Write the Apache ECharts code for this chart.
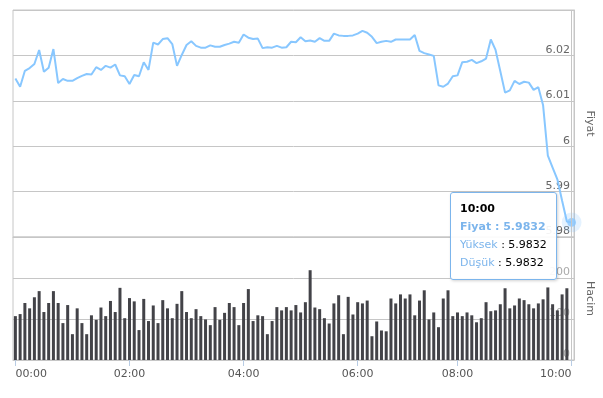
<!DOCTYPE html>
<html>
<head>
<meta charset="utf-8">
<script src="https://cdn.jsdelivr.net/npm/echarts@6/dist/echarts.min.js"></script>
<style>
    html, body { margin: 0; padding: 0; background: #fff; }
    #chart { width: 603px; height: 398px; }
</style>
</head>
<body>
<div id="chart"></div>
<script>
// ──── data ────
const times = [
    '00:00','00:05','00:10','00:15','00:20','00:25','00:30','00:35','00:40','00:45','00:50','00:55',
    '01:00','01:05','01:10','01:15','01:20','01:25','01:30','01:35','01:40','01:45','01:50','01:55',
    '02:00','02:05','02:10','02:15','02:20','02:25','02:30','02:35','02:40','02:45','02:50','02:55',
    '03:00','03:05','03:10','03:15','03:20','03:25','03:30','03:35','03:40','03:45','03:50','03:55',
    '04:00','04:05','04:10','04:15','04:20','04:25','04:30','04:35','04:40','04:45','04:50','04:55',
    '05:00','05:05','05:10','05:15','05:20','05:25','05:30','05:35','05:40','05:45','05:50','05:55',
    '06:00','06:05','06:10','06:15','06:20','06:25','06:30','06:35','06:40','06:45','06:50','06:55',
    '07:00','07:05','07:25','07:30','07:35','07:40','07:45','07:50','07:55',
    '08:00','08:05','08:10','08:15','08:20','08:25','08:30','08:35','08:40','08:45','08:50','08:55',
    '09:00','09:05','09:10','09:15','09:20','09:25','09:30','09:35','09:40','09:45','09:50','09:55',
    '10:00'
];

const price = [
    6.0149, 6.0131, 6.0166, 6.0172, 6.0181, 6.0212, 6.0164, 6.0173, 6.0214, 6.0139,
    6.0148, 6.0144, 6.0144, 6.0150, 6.0155, 6.0159, 6.0158, 6.0174, 6.0168, 6.0177,
    6.0173, 6.0180, 6.0156, 6.0154, 6.0137, 6.0157, 6.0154, 6.0185, 6.0168, 6.0228,
    6.0224, 6.0236, 6.0238, 6.0225, 6.0177, 6.0201, 6.0223, 6.0231, 6.0221, 6.0217,
    6.0217, 6.0222, 6.0219, 6.0219, 6.0223, 6.0226, 6.0230, 6.0228, 6.0246, 6.0239,
    6.0236, 6.0237, 6.0216, 6.0218, 6.0217, 6.0221, 6.0217, 6.0218, 6.0230, 6.0229,
    6.0240, 6.0231, 6.0233, 6.0230, 6.0238, 6.0232, 6.0232, 6.0248, 6.0244, 6.0243,
    6.0243, 6.0244, 6.0248, 6.0254, 6.0250, 6.0241, 6.0227, 6.0230, 6.0232, 6.0230,
    6.0235, 6.0235, 6.0235, 6.0235, 6.0245, 6.0210, 6.0205, 6.0202, 6.0199, 6.0134,
    6.0131, 6.0138, 6.0154, 6.0156, 6.0185, 6.0186, 6.0190, 6.0183, 6.0187, 6.0193,
    6.0235, 6.0212, 6.0165, 6.0118, 6.0123, 6.0144, 6.0137, 6.0142, 6.0140, 6.0124,
    6.0130, 6.0090, 5.9979, 5.9953, 5.9927, 5.9880, 5.9834, 5.9832
];

const volume = [
    107, 112, 139, 126, 153, 168, 117, 139, 168, 139,
    90, 134, 63, 126, 90, 63, 109, 98, 128, 107,
    144, 117, 176, 102, 151, 143, 73, 149, 95, 133,
    90, 146, 126, 102, 137, 168, 117, 102, 124, 107,
    99, 85, 129, 98, 115, 139, 129, 85, 139, 173,
    95, 109, 107, 63, 95, 129, 121, 129, 121, 134,
    116, 141, 219, 128, 124, 102, 89, 138, 158, 63,
    154, 111, 141, 138, 145, 58, 94, 72, 70, 150,
    138, 160, 150, 160, 109, 145, 170, 99, 116, 80,
    150, 170, 107, 116, 107, 116, 109, 92, 102, 141,
    119, 121, 136, 175, 126, 133, 150, 146, 136, 126,
    138, 148, 177, 136, 121, 160, 175
];

const timeLabels = ['00:00', '02:00', '04:00', '06:00', '08:00', '10:00'];
const priceScale = { min: 5.98, max: 6.03, step: 0.01 };
const volumeScale = { min: 0, max: 300, step: 100 };

// ──── chart ────
const FONT = 'DejaVu Sans';
const GRID_LINE = '#c6c6c6';
const BLUE = '#7cb5ec';
const last = price.length - 1;
const onlyLast = price.map((v, i) => (i === last ? v : '-'));
const showLabel = (idx, val) => timeLabels.includes(val);

const chart = echarts.init(document.getElementById('chart'), null, { renderer: 'canvas' });

function rightAxis(gridIndex, name, scale, labelColor) {
    return {
        type: 'value',
        gridIndex,
        position: 'right',
        min: scale.min,
        max: scale.max,
        interval: scale.step,
        name,
        nameLocation: 'middle',
        nameRotate: -90,
        nameGap: 10,
        nameTextStyle: { color: '#666', fontSize: 11, fontFamily: FONT },
        axisLine: { show: true, lineStyle: { color: GRID_LINE } },
        axisTick: { show: false },
        axisLabel: {
            inside: true, margin: 4, verticalAlign: 'bottom',
            color: labelColor, fontSize: 11, fontFamily: FONT,
            // top of the scale carries no label
            formatter: (v) => (v >= scale.max - scale.step / 2 ? '' : String(parseFloat(v.toFixed(4)))),
        },
        splitLine: { lineStyle: { color: GRID_LINE } },
    };
}

const edgeLine = {
    silent: true,
    symbol: 'none',
    label: { show: false },
    lineStyle: { color: GRID_LINE, type: 'solid', width: 1 },
    data: [{ xAxis: times[last] }],
};

chart.setOption({
    animation: false,
    grid: [
        { left: 13, right: 24, top: 10, height: 227, show: true, borderColor: GRID_LINE, borderWidth: 1 },
        { left: 13, right: 24, top: 237, height: 123, show: true, borderColor: GRID_LINE, borderWidth: 1 },
    ],
    xAxis: [
        {
            type: 'category', gridIndex: 0, data: times, boundaryGap: true,
            axisLine: { lineStyle: { color: GRID_LINE } },
            axisTick: { show: false }, axisLabel: { show: false }, splitLine: { show: false },
        },
        {
            type: 'category', gridIndex: 1, data: times, boundaryGap: true,
            axisLine: { lineStyle: { color: GRID_LINE } },
            axisTick: { show: true, alignWithLabel: true, interval: showLabel, length: 6, lineStyle: { color: '#b8cce4' } },
            axisLabel: {
                interval: showLabel, margin: 9, color: '#555', fontSize: 11, fontFamily: FONT,
                alignMinLabel: 'left', alignMaxLabel: 'right',
            },
            splitLine: { show: false },
        },
    ],
    yAxis: [
        rightAxis(0, 'Fiyat', priceScale, '#666'),
        rightAxis(1, 'Hacim', volumeScale, '#aaa'),
    ],
    tooltip: {
        trigger: 'axis',
        triggerOn: 'none',
        alwaysShowContent: true,
        transitionDuration: 0,
        axisPointer: { type: 'none' },
        backgroundColor: 'rgba(255,255,255,0.92)',
        borderColor: BLUE,
        borderWidth: 1,
        padding: [7, 9],
        extraCssText: 'box-shadow: 1px 1px 3px rgba(0,0,0,0.18); border-radius: 3px;',
        textStyle: { fontFamily: FONT, fontSize: 11, color: '#000' },
        position: (pt, params, dom, rect, size) => {
            const p = chart.convertToPixel({ gridIndex: 0 }, [last, price[last]]);
            return [p[0] - size.contentSize[0] - 15, p[1] - 30];
        },
        formatter: (params) => {
            const i = (Array.isArray(params) ? params[0] : params).dataIndex;
            const v = price[i].toFixed(4);
            return `<div style="line-height:18px;font-family:${FONT};font-size:11px;color:#000">`
                + `<b>${times[i]}</b><br/>`
                + `<span style="color:${BLUE};font-weight:bold">Fiyat : ${v}</span><br/>`
                + `<span style="color:${BLUE}">Yüksek</span> : ${v}<br/>`
                + `<span style="color:${BLUE}">Düşük</span> : ${v}</div>`;
        },
    },
    series: [
        {
            name: 'Fiyat', type: 'line', xAxisIndex: 0, yAxisIndex: 0, data: price,
            showSymbol: false, symbol: 'none',
            lineStyle: { color: BLUE, width: 2 },
            itemStyle: { color: BLUE },
            markLine: edgeLine,
            z: 2,
        },
        {
            type: 'scatter', xAxisIndex: 0, yAxisIndex: 0, data: onlyLast,
            symbolSize: 18, silent: true, itemStyle: { color: 'rgba(124,181,236,0.28)' }, z: 3,
        },
        {
            type: 'scatter', xAxisIndex: 0, yAxisIndex: 0, data: onlyLast,
            symbolSize: 8, silent: true, itemStyle: { color: BLUE }, z: 4,
        },
        {
            name: 'Hacim', type: 'bar', xAxisIndex: 1, yAxisIndex: 1, data: volume,
            barWidth: 3, itemStyle: { color: '#434348' },
            markLine: edgeLine,
        },
    ],
});

chart.dispatchAction({ type: 'showTip', seriesIndex: 0, dataIndex: last });
</script>
</body>
</html>
